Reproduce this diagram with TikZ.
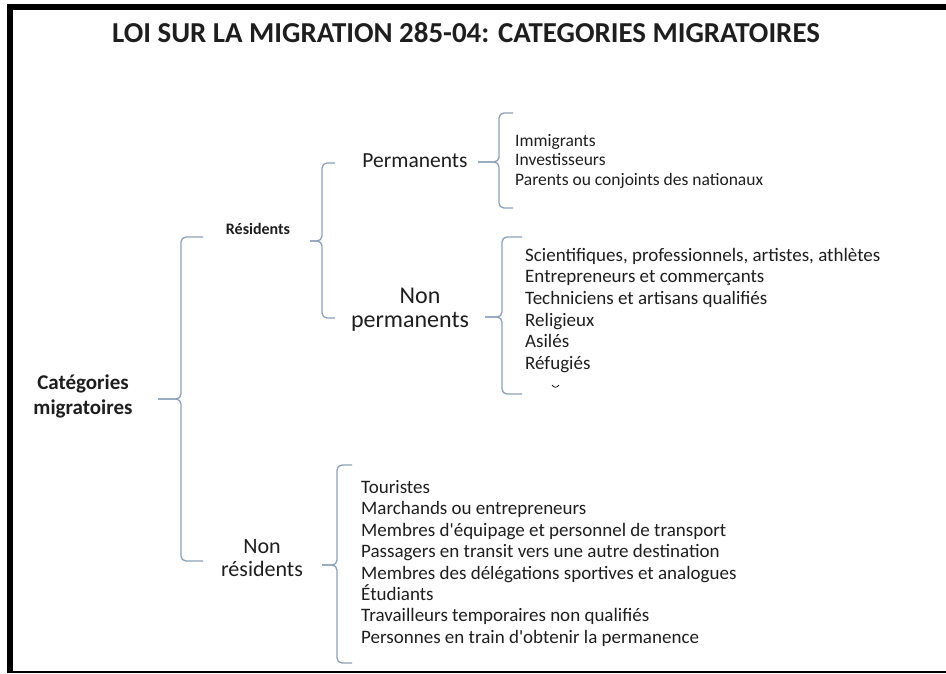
\documentclass[tikz,border=0pt]{standalone}
\usepackage{fontspec}
\setmainfont{Carlito}
\definecolor{bracecol}{RGB}{140,160,185}
\definecolor{txt}{RGB}{30,30,30}
\newcommand\migbrace[6]{%
  \draw[bracestroke] (#5,#2) -- (#1,#2) -- (#1,#4) -- (#6,#4);
  \draw[bracestroke] (#6,#4) -- (#1,#4) -- (#1,#3) -- (#5,#3);}
\begin{document}
\begin{tikzpicture}[x=1pt,y=-1pt,
  bracestroke/.style={draw=bracecol,line width=1.3pt,rounded corners=5pt},
  lab/.style={anchor=center,inner sep=0pt,text=txt},
  itemA/.style={anchor=mid west,inner sep=0pt,text=txt,font=\fontsize{17.5}{20}\selectfont},
  itemB/.style={anchor=mid west,inner sep=0pt,text=txt,font=\fontsize{19}{21}\selectfont}]
\useasboundingbox (0,0) rectangle (946,673);
% frame
\fill[black] (7,4) rectangle (13,673);
\fill[black] (7,4) rectangle (946,10);
\fill[black] (7,671) rectangle (946,672.5);
% title
\node[anchor=base,inner sep=0pt,text=txt,font=\bfseries\fontsize{28.9}{34}\selectfont] (title) at (466,42) {LOI SUR LA MIGRATION 285-04: CATEGORIES MIGRATOIRES};
% labels
\node[lab,font=\bfseries\fontsize{21}{25}\selectfont,align=center] (cat) at (83,396) {Catégories\\migratoires};
\node[lab,font=\bfseries\fontsize{16}{19}\selectfont] (res) at (258,229) {Résidents};
\node[lab,font=\fontsize{22}{23.5}\selectfont,align=center] (nonres) at (262,558) {Non\\résidents};
\node[lab,font=\fontsize{21.5}{24}\selectfont] (perm) at (415,161) {Permanents};
\node[lab,font=\fontsize{24}{24}\selectfont,align=center] (nonperm) at (410,310) {\hspace*{20pt}Non\\permanents};
% braces
\migbrace{181}{237}{561}{399}{203}{158}
\migbrace{322}{163}{318}{241}{335}{310}
\migbrace{499}{113}{208}{162}{513}{478}
\migbrace{502}{237}{394}{317}{522}{485}
\migbrace{337}{465}{663}{565}{352}{322}
% lists
\foreach \t [count=\i] in {Immigrants,Investisseurs,Parents ou conjoints des nationaux}
  \node[itemA] (p\i) at (515,{144+19.5*(\i-1)}) {\t};
\foreach \t [count=\i] in {{Scientifiques, professionnels, artistes, athlètes},Entrepreneurs et commerçants,Techniciens et artisans qualifiés,Religieux,Asilés,Réfugiés}
  \node[itemB] (np\i) at (525,{259+21.6*(\i-1)}) {\t};
\foreach \t [count=\i] in {Touristes,Marchands ou entrepreneurs,Membres d\textquotesingle équipage et personnel de transport,Passagers en transit vers une autre destination,Membres des délégations sportives et analogues,Étudiants,Travailleurs temporaires non qualifiés,Personnes en train d\textquotesingle obtenir la permanence}
  \node[itemB] (nr\i) at (361,{491+21.43*(\i-1)}) {\t};
% small mark
\draw[txt,line width=0.8pt] (552,385) .. controls (554,388) and (557,388) .. (559,385);
\end{tikzpicture}
\end{document}
